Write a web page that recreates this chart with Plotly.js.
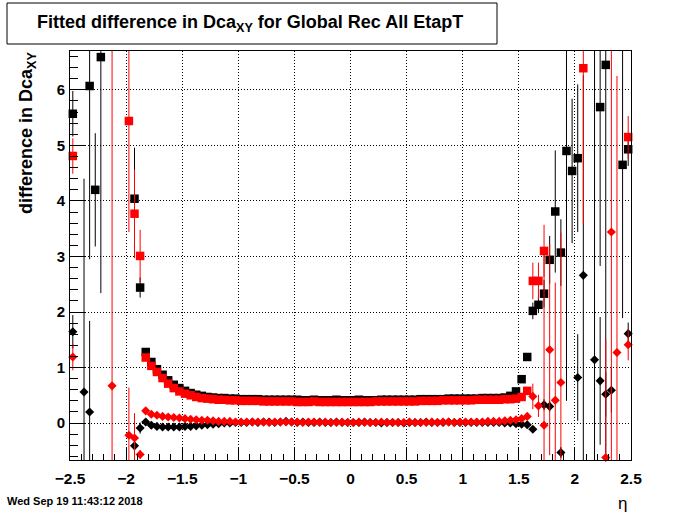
<!DOCTYPE html>
<html><head><meta charset="utf-8">
<script src="https://cdn.plot.ly/plotly-3.0.1.min.js"></script>
<style>body{margin:0;padding:0;background:#fff}#chart{width:700px;height:512px}</style>
</head><body><div id="chart"></div>
<script>
const eta = [
-2.475,-2.425,-2.375,-2.325,-2.275,-2.225,-2.175,-2.125,-2.075,-2.025,
-1.975,-1.925,-1.875,-1.825,-1.775,-1.725,-1.675,-1.625,-1.575,-1.525,
-1.475,-1.425,-1.375,-1.325,-1.275,-1.225,-1.175,-1.125,-1.075,-1.025,
-0.975,-0.925,-0.875,-0.825,-0.775,-0.725,-0.675,-0.625,-0.575,-0.525,
-0.475,-0.425,-0.375,-0.325,-0.275,-0.225,-0.175,-0.125,-0.075,-0.025,
0.025,0.075,0.125,0.175,0.225,0.275,0.325,0.375,0.425,0.475,
0.525,0.575,0.625,0.675,0.725,0.775,0.825,0.875,0.925,0.975,
1.025,1.075,1.125,1.175,1.225,1.275,1.325,1.375,1.425,1.475,
1.525,1.575,1.625,1.675,1.725,1.775,1.825,1.875,1.925,1.975,
2.025,2.075,2.125,2.175,2.225,2.275,2.325,2.375,2.425,2.475];

const blackSquare = [
5.57,null,null,6.07,4.20,6.59,null,null,null,null,
null,4.04,2.44,1.28,1.10,0.97,0.87,0.77,0.69,0.63,
0.58,0.54,0.51,0.49,0.47,0.46,0.45,0.45,0.44,0.44,
0.43,0.43,0.43,0.43,0.42,0.42,0.42,0.42,0.42,0.42,
0.42,0.41,0.41,0.42,0.41,0.41,0.41,0.42,0.41,0.41,
0.41,0.42,0.41,0.41,0.41,0.42,0.42,0.42,0.42,0.42,
0.42,0.42,0.43,0.43,0.43,0.43,0.43,0.44,0.44,0.44,
0.44,0.44,0.44,0.45,0.45,0.45,0.45,0.46,0.49,0.57,
0.79,1.19,2.02,2.13,2.33,2.94,3.81,3.07,4.90,4.54,
4.77,null,null,null,5.69,6.45,null,null,4.65,4.93];
const blackSquareErr = [
0.41,0,0,3.12,1.02,4.25,0,0,0,0,
0,0.92,0.18,0.06,0.04,0.03,0.03,0.02,0.02,0.02,
0.02,0.02,0.02,0.02,0.02,0.02,0.02,0.02,0.02,0.02,
0.02,0.02,0.02,0.02,0.02,0.02,0.02,0.02,0.02,0.02,
0.02,0.02,0.02,0.02,0.02,0.02,0.02,0.02,0.02,0.02,
0.02,0.02,0.02,0.02,0.02,0.02,0.02,0.02,0.02,0.02,
0.02,0.02,0.02,0.02,0.02,0.02,0.02,0.02,0.02,0.02,
0.02,0.02,0.02,0.02,0.02,0.02,0.02,0.02,0.03,0.04,
0.05,0.07,0.15,0.15,0.25,0.43,1.10,0.60,4.50,1.30,
1.33,0,0,0,2.86,7.00,0,0,2.76,0.30];

const redSquare = [
4.81,null,null,null,null,null,null,null,null,null,
5.44,3.77,3.01,1.18,1.03,0.92,0.81,0.71,0.63,0.57,
0.53,0.50,0.47,0.45,0.44,0.43,0.42,0.42,0.41,0.41,
0.40,0.40,0.40,0.40,0.39,0.39,0.39,0.39,0.39,0.39,
0.38,0.38,0.38,0.39,0.38,0.38,0.38,0.38,0.38,0.38,
0.38,0.38,0.38,0.38,0.39,0.39,0.39,0.39,0.39,0.39,
0.39,0.39,0.40,0.40,0.40,0.40,0.41,0.41,0.41,0.41,
0.41,0.41,0.42,0.42,0.42,0.42,0.42,0.43,0.43,0.44,
0.47,0.58,2.56,2.56,3.10,null,null,null,null,null,
null,6.39,null,null,null,null,null,null,null,5.15];
const redSquareErr = [
0.32,0,0,0,0,0,0,0,0,0,
2.00,0.80,0.47,0.05,0.03,0.03,0.02,0.02,0.02,0.02,
0.02,0.02,0.02,0.02,0.02,0.02,0.02,0.02,0.02,0.02,
0.02,0.02,0.02,0.02,0.02,0.02,0.02,0.02,0.02,0.02,
0.02,0.02,0.02,0.02,0.02,0.02,0.02,0.02,0.02,0.02,
0.02,0.02,0.02,0.02,0.02,0.02,0.02,0.02,0.02,0.02,
0.02,0.02,0.02,0.02,0.02,0.02,0.02,0.02,0.02,0.02,
0.02,0.02,0.02,0.02,0.02,0.02,0.02,0.02,0.02,0.03,
0.04,0.06,0.33,0.33,0.47,0,0,0,0,0,
0,2.80,0,0,0,0,0,0,0,0.38];

const blackDiamond = [
1.645,null,0.56,0.20,null,null,null,null,null,null,
null,-0.41,-0.09,0.02,-0.04,-0.06,-0.07,-0.07,-0.07,-0.07,
-0.06,-0.06,-0.05,-0.04,-0.03,-0.02,-0.01,0.00,0.00,0.01,
0.01,0.01,0.02,0.01,0.02,0.02,0.01,0.02,0.03,0.02,
0.01,0.02,0.01,0.01,0.02,0.01,0.01,0.02,0.01,0.01,
0.01,0.01,0.02,0.01,0.01,0.00,0.01,0.01,0.01,0.00,
0.01,0.01,0.01,0.02,0.01,0.01,0.01,0.02,0.01,0.01,
0.01,0.01,0.01,0.01,0.01,0.01,0.01,0.00,0.00,-0.01,
-0.02,-0.03,-0.11,null,0.33,0.30,null,-0.53,null,null,
0.82,2.66,null,1.14,0.76,0.52,0.59,null,null,1.61];
const blackDiamondErr = [
0.30,0,3.84,1.64,0,0,0,0,0,0,
0,0.04,0.10,0.03,0.02,0.02,0.02,0.02,0.02,0.02,
0.02,0.02,0.02,0.02,0.02,0.02,0.02,0.02,0.02,0.02,
0.02,0.02,0.02,0.02,0.02,0.02,0.02,0.02,0.02,0.02,
0.02,0.02,0.02,0.02,0.02,0.02,0.02,0.02,0.02,0.02,
0.02,0.02,0.02,0.02,0.02,0.02,0.02,0.02,0.02,0.02,
0.02,0.02,0.02,0.02,0.02,0.02,0.02,0.02,0.02,0.02,
0.02,0.02,0.02,0.02,0.02,0.02,0.02,0.02,0.02,0.02,
0.02,0.03,0.05,0,0.10,0.10,0,0.10,0,0,
0.78,3.60,0,8.00,1.15,0.40,0.40,0,0,0.20];

const redDiamond = [
1.19,null,null,null,null,null,null,0.67,null,null,
-0.22,-0.27,-0.565,0.22,0.16,0.14,0.12,0.11,0.10,0.09,
0.08,0.07,0.06,0.05,0.05,0.04,0.03,0.03,0.03,0.02,
0.02,0.02,0.02,0.02,0.02,0.01,0.02,0.02,0.02,0.02,
0.02,0.01,0.02,0.02,0.01,0.02,0.01,0.01,0.02,0.01,
0.01,0.02,0.01,0.01,0.01,0.02,0.01,0.01,0.01,0.01,
0.02,0.01,0.01,0.01,0.02,0.01,0.02,0.02,0.01,0.02,
0.02,0.02,0.02,0.02,0.03,0.03,0.03,0.04,0.05,0.06,
0.08,0.12,0.48,0.31,-0.04,1.32,0.41,0.73,null,null,
null,null,null,null,null,-0.62,3.44,1.27,null,1.41];
const redDiamondErr = [
0.24,0,0,0,0,0,0,8.00,0,0,
0.86,0.45,0.08,0.03,0.02,0.02,0.02,0.02,0.02,0.02,
0.02,0.02,0.02,0.02,0.02,0.02,0.02,0.02,0.02,0.02,
0.02,0.02,0.02,0.02,0.02,0.02,0.02,0.02,0.02,0.02,
0.02,0.02,0.02,0.02,0.02,0.02,0.02,0.02,0.02,0.02,
0.02,0.02,0.02,0.02,0.02,0.02,0.02,0.02,0.02,0.02,
0.02,0.02,0.02,0.02,0.02,0.02,0.02,0.02,0.02,0.02,
0.02,0.02,0.02,0.02,0.02,0.02,0.02,0.02,0.02,0.02,
0.02,0.03,0.23,0.20,3.20,1.90,2.12,2.70,0,0,
0,0,0,0,0,2.13,8.00,4.98,0,0.28];

const xTicks = [-2.5,-2,-1.5,-1,-0.5,0,0.5,1,1.5,2,2.5];
const xTickText = ['\u22122.5','\u22122','\u22121.5','\u22121','\u22120.5','0','0.5','1','1.5','2','2.5'];
const yTicks = [0,1,2,3,4,5,6];

const FONT = 'Liberation Sans, Arial, Helvetica, sans-serif';

function series(y, err, color, symbol, size) {
  return {
    type: 'scatter', mode: 'markers', x: eta, y: y,
    marker: {color: color, symbol: symbol, size: size, line: {width: 0}},
    error_y: {type: 'data', array: err, visible: true, color: color, thickness: 1, width: 0},
    cliponaxis: false, hoverinfo: 'skip'
  };
}

const traces = [
  series(blackSquare, blackSquareErr, '#000000', 'square', 8.5),
  series(blackDiamond, blackDiamondErr, '#000000', 'diamond', 7),
  series(redSquare, redSquareErr, '#ff0000', 'square', 8.5),
  series(redDiamond, redDiamondErr, '#ff0000', 'diamond', 7)
];

const L = 70, R = 631, T = 51, B = 460;
const px = v => (v - L) / (R - L);
const py = v => (B - v) / (B - T);

const layout = {
  width: 700, height: 512,
  margin: {l: L, r: 700 - R, t: T, b: 512 - B, pad: 0},
  paper_bgcolor: '#ffffff', plot_bgcolor: '#ffffff',
  showlegend: false,
  xaxis: {
    range: [-2.5, 2.5], tickmode: 'array', tickvals: xTicks, ticktext: xTickText,
    ticks: 'inside', ticklen: 12, tickwidth: 1, tickcolor: '#000',
    showline: true, linecolor: '#000', linewidth: 1, mirror: true,
    showgrid: true, gridcolor: '#000', gridwidth: 1, griddash: '1px,2px',
    zeroline: false, ticklabelstandoff: 4,
    tickfont: {family: FONT, size: 15.5, color: '#000', weight: 'bold'},
    minor: {ticks: 'inside', ticklen: 6, dtick: 0.1, tick0: -2.5, tickcolor: '#000', tickwidth: 1, showgrid: false},
    fixedrange: true
  },
  yaxis: {
    range: [-0.665, 6.70], tickmode: 'array', tickvals: yTicks,
    ticks: 'inside', ticklen: 16, tickwidth: 1, tickcolor: '#000',
    showline: true, linecolor: '#000', linewidth: 1, mirror: true,
    showgrid: true, gridcolor: '#000', gridwidth: 1, griddash: '1px,2px',
    zeroline: false, ticklabelstandoff: 1,
    tickfont: {family: FONT, size: 15, color: '#000', weight: 'bold'},
    minor: {ticks: 'inside', ticklen: 8, dtick: 0.2, tick0: 0, tickcolor: '#000', tickwidth: 1, showgrid: false},
    fixedrange: true
  },
  shapes: [
    {type: 'rect', xref: 'paper', yref: 'paper', x0: px(7), x1: px(497), y0: py(44), y1: py(3),
     line: {color: '#000', width: 1}, fillcolor: '#ffffff', layer: 'above'}
  ],
  annotations: [
    {xref: 'paper', yref: 'paper', x: px(250), y: py(24), xanchor: 'center', yanchor: 'middle',
     text: 'Fitted difference in Dca<sub>XY</sub> for Global Rec All EtapT', showarrow: false,
     font: {family: FONT, size: 18, color: '#000', weight: 'bold'}},
    {xref: 'paper', yref: 'paper', x: px(27), y: py(133), xanchor: 'center', yanchor: 'middle',
     text: 'difference in Dca<sub>XY</sub>', textangle: -90, showarrow: false,
     font: {family: FONT, size: 18, color: '#000', weight: 'bold'}},
    {xref: 'paper', yref: 'paper', x: px(622), y: py(503), xanchor: 'center', yanchor: 'middle',
     text: '\u03b7', showarrow: false,
     font: {family: FONT, size: 17, color: '#000'}},
    {xref: 'paper', yref: 'paper', x: px(5), y: py(501), xanchor: 'left', yanchor: 'middle',
     text: 'Wed Sep 19 11:43:12 2018', showarrow: false,
     font: {family: FONT, size: 11, color: '#000', weight: 'bold'}}
  ]
};

Plotly.newPlot('chart', traces, layout, {staticPlot: true, displayModeBar: false});
</script>
</body></html>
